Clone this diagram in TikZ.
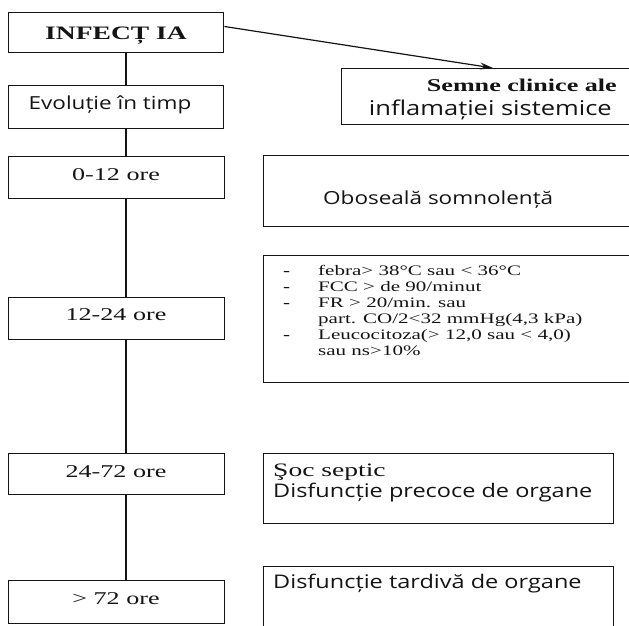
\documentclass[tikz,border=0pt]{standalone}
\usepackage{fontspec}
\usetikzlibrary{arrows.meta,calc}
\newfontfamily\rmf[FakeStretch=1.45]{Liberation Serif}
\newfontfamily\sff[FakeStretch=1.25]{Open Sans}
\definecolor{ink}{HTML}{141414}
\begin{document}
\begin{tikzpicture}[x=1pt,y=-1pt,
  box/.style={draw=ink,line width=1.35pt,rectangle,inner sep=0pt,anchor=north west},
  lbox/.style={box,minimum width=216pt,minimum height=42pt},
  lab/.style={inner sep=0pt,text=ink},
  serif/.style={font=\rmf\fontsize{18}{20}\selectfont},
  sans/.style={font=\sff\fontsize{18}{20}\selectfont},
  sansb/.style={font=\sff\fontsize{18.8}{20}\selectfont},
  small/.style={font=\rmf\fontsize{14.5}{16}\selectfont},
  conn/.style={draw=ink,line width=1.35pt}]
\useasboundingbox (0,0) rectangle (629,626);
\clip (0,0) rectangle (629,626);
% left column boxes
\node[lbox,minimum width=215pt,minimum height=40pt] (inf) at (8,12) {};
\node[lbox,minimum width=215pt,minimum height=43pt] (evo) at (8,85) {};
\node[lbox] (t1) at (8,156) {};
\node[lbox,minimum height=42pt] (t2) at (8,297) {};
\node[lbox,minimum height=41pt] (t3) at (8,453) {};
\node[lbox,minimum height=43pt] (t4) at (8,580) {};
% left column texts
\node[lab,anchor=base,font=\rmf\bfseries\fontsize{19}{20}\selectfont] (tinf) at (116,40) {INFECȚ IA};
\node[lab,sans,anchor=base] (tevo) at (110,110) {Evoluție în timp};
\node[lab,serif,anchor=base] (tt1) at (116,180) {0-12 ore};
\node[lab,serif,anchor=base] (tt2) at (116,320) {12-24 ore};
\node[lab,serif,anchor=base] (tt3) at (116,477) {24-72 ore};
\node[lab,serif,anchor=base] (tt4) at (116,604) {> 72 ore};
% right column boxes
\node[box,minimum width=300pt,minimum height=56pt] (semne) at (341,68) {};
\node[box,minimum width=380pt,minimum height=71pt] (obo) at (263,155) {};
\node[box,minimum width=380pt,minimum height=127pt] (lst) at (263,255) {};
\node[box,minimum width=350pt,minimum height=70pt] (soc) at (263,453) {};
\node[box,minimum width=350pt,minimum height=80pt] (tard) at (263,566) {};
% right column texts
\node[lab,anchor=base east,font=\rmf\bfseries\fontsize{18}{20}\selectfont] (ts1) at (617,92) {Semne clinice ale};
\node[lab,anchor=base east,font=\sff\fontsize{20.4}{22}\selectfont] (ts2) at (612,115) {inflamației sistemice};
\node[lab,sans,anchor=base west] (tobo) at (323,204) {Oboseală somnolență};
\node[lab,small,anchor=base west] (d1) at (283,275) {\textbf{-}};
\node[lab,small,anchor=base west] (d2) at (283,291) {\textbf{-}};
\node[lab,small,anchor=base west] (d3) at (283,307) {\textbf{-}};
\node[lab,small,anchor=base west] (d4) at (283,339) {\textbf{-}};
\node[lab,small,anchor=base west] (l1) at (318,275) {febra> 38°C sau < 36°C};
\node[lab,small,anchor=base west] (l2) at (318,291) {FCC > de 90/minut};
\node[lab,small,anchor=base west] (l3) at (318,307) {FR > 20/min. sau};
\node[lab,small,anchor=base west] (l4) at (318,323) {part. CO/2<32 mmHg(4,3 kPa)};
\node[lab,small,anchor=base west] (l5) at (318,339) {Leucocitoza(> 12,0 sau < 4,0)};
\node[lab,small,anchor=base west] (l6) at (318,355) {sau ns>10\%};
\node[lab,font=\rmf\fontsize{19}{20}\selectfont,anchor=base west] (tsoc1) at (273,476) {Şoc septic};
\node[lab,sansb,anchor=base west] (tsoc2) at (273,497) {Disfuncție precoce de organe};
\node[lab,sansb,anchor=base west] (ttard) at (273,588) {Disfuncție tardivă de organe};
% spine and connectors
\coordinate (sp) at (126,0);
\coordinate (tip) at (493,0);
\path[conn] (inf.south -| sp) -- (evo.north -| sp);
\path[conn] (evo.south -| sp) -- (t1.north -| sp);
\path[conn] (t1.south -| sp) -- (t2.north -| sp);
\path[conn] (t2.south -| sp) -- (t3.north -| sp);
\path[conn] (t3.south -| sp) -- (t4.north -| sp);
\path[conn,line width=1.2pt,-{Stealth[length=13pt,width=7pt]}] ($(inf.north east)!0.35!(inf.south east)$) -- (semne.north -| tip);
\end{tikzpicture}
\end{document}
